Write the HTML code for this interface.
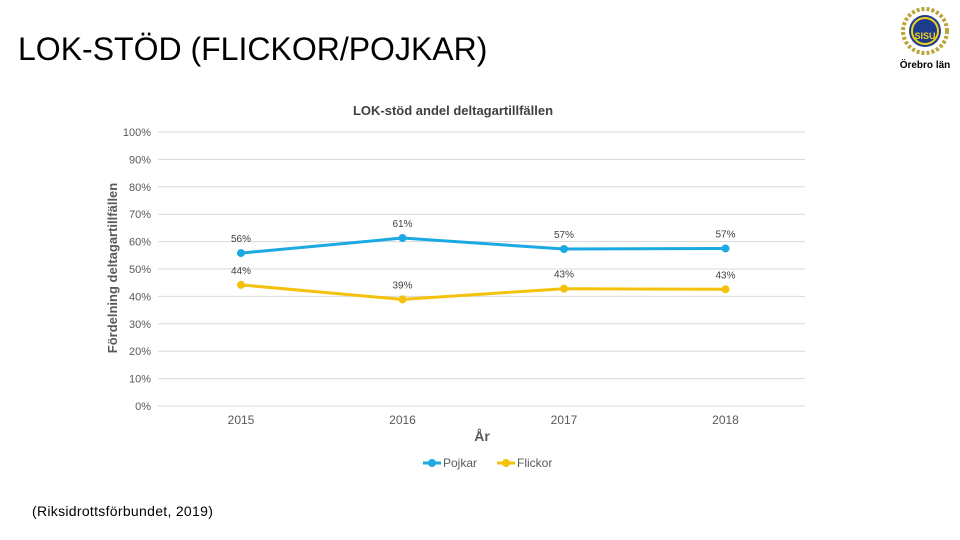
<!DOCTYPE html>
<html><head><meta charset="utf-8"><style>
body{margin:0;width:960px;height:540px;background:#fff;overflow:hidden;font-family:"Liberation Sans",sans-serif;position:relative}
.t{position:absolute;left:18px;top:31px;font-size:32px;color:#000;line-height:36px}
.src{position:absolute;left:32px;top:503px;font-size:14px;color:#000;font-family:"Liberation Sans",sans-serif;letter-spacing:0.3px}
</style></head><body>
<div class="t">LOK-STÖD (FLICKOR/POJKAR)</div>
<div class="src">(Riksidrottsförbundet, 2019)</div>
<svg style="position:absolute;left:895px;top:3px" width="60" height="70">
<circle cx="30" cy="28" r="22" fill="none" stroke="#b9a437" stroke-width="4" stroke-dasharray="3 2"/>
<circle cx="30" cy="28" r="16" fill="#1c3c8c"/><circle cx="30" cy="28" r="13" fill="none" stroke="#f2cf1e" stroke-width="2"/>
<text x="30" y="36" font-size="9" font-weight="bold" fill="#f2cf1e" text-anchor="middle">SISU</text>
<text x="30" y="65" font-size="10" font-weight="bold" fill="#000" text-anchor="middle">Örebro län</text></svg>
<svg id="c" width="960" height="540" style="position:absolute;left:0;top:0"></svg>
<script>
const categories=["2015","2016","2017","2018"];
const pojkar=[55.8,61.3,57.3,57.5];
const flickor=[44.2,38.9,42.8,42.6];
const pojkarLabels=["56%","61%","57%","57%"];
const flickorLabels=["44%","39%","43%","43%"];
const yTicks=[0,10,20,30,40,50,60,70,80,90,100];
const svg=document.getElementById('c');const NS="http://www.w3.org/2000/svg";
function y(v){return 406-v*2.74;}
function x(i){return 241+i*161.5;}
function mk(t,a,txt){const e=document.createElementNS(NS,t);for(const k in a)e.setAttribute(k,a[k]);if(txt!==undefined)e.textContent=txt;svg.appendChild(e);return e;}
let e=mk('text',{x:453,y:115,'font-size':13,'text-anchor':'middle',fill:'#404040','font-weight':'bold'},'LOK-stöd andel deltagartillfällen');

yTicks.forEach(v=>{
 let l=mk('line',{x1:158,x2:805,y1:y(v),y2:y(v),stroke:'#d9d9d9','stroke-width':1});
 
 let t=mk('text',{x:151,y:y(v)+4,'font-size':11,'text-anchor':'end',fill:'#595959'},v+'%');
 
});
categories.forEach((c,i)=>{let t=mk('text',{x:x(i),y:424,'font-size':12,'text-anchor':'middle',fill:'#595959'},c);
 });
e=mk('text',{x:482,y:441,'font-size':14,'text-anchor':'middle',fill:'#595959','font-weight':'bold'},'År');

e=mk('text',{x:0,y:0,'font-size':13,'text-anchor':'middle',fill:'#595959','font-weight':'bold',transform:'translate(117,268) rotate(-90)'},'Fördelning deltagartillfällen');

function series(vals,labs,col,name){
 let p=mk('polyline',{points:vals.map((v,i)=>x(i)+','+y(v)).join(' '),fill:'none',stroke:col,'stroke-width':3});
 
 vals.forEach((v,i)=>{let c=mk('circle',{cx:x(i),cy:y(v),r:4,fill:col});
  
  let t=mk('text',{x:x(i),y:y(v)-11,'font-size':10,'text-anchor':'middle',fill:'#404040'},labs[i]);
  });
}
series(pojkar,pojkarLabels,'#1ba9e1','pojkar');
series(flickor,flickorLabels,'#f4c20d','flickor');
[[425,'#1ba9e1','Pojkar'],[499,'#f4c20d','Flickor']].forEach(([lx,col,n])=>{
 let g=mk('line',{x1:lx-2,x2:lx+16,y1:463,y2:463,stroke:col,'stroke-width':3});
 
 let c=mk('circle',{cx:lx+7,cy:463,r:4,fill:col});
 
 let t=mk('text',{x:lx+18,y:467,'font-size':12,fill:'#595959'},n);
 
});
</script>
</body></html>
